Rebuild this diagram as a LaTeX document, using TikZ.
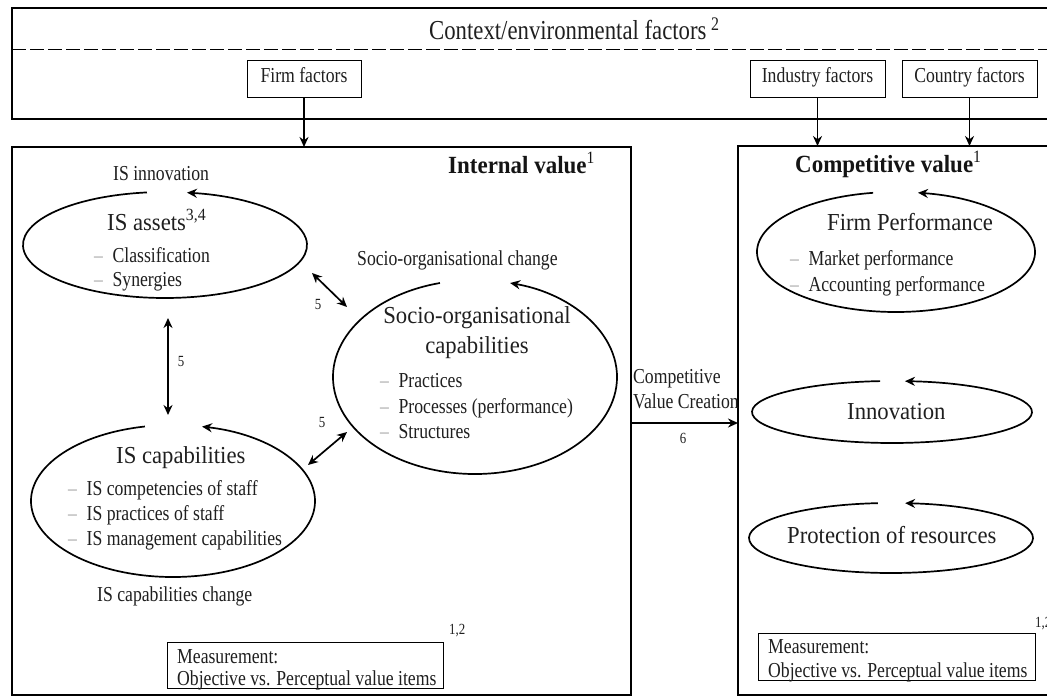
\documentclass[tikz,border=0pt]{standalone}
\usepackage{fontspec}
\setmainfont{Liberation Serif}[FakeStretch=0.9]
\newfontfamily\smf{Liberation Serif}[FakeStretch=0.83, Ligatures=TeX]
\newfontfamily\bgf{Liberation Serif}[FakeStretch=0.93, Ligatures=TeX]
\usetikzlibrary{arrows.meta,calc,shapes.geometric}
\newcommand{\dsh}{\textcolor{black!35}{\textendash}\hspace{0.45em}}
\tikzset{
  bigbox/.style={draw, line width=2.4pt, inner sep=0pt, outer sep=0pt, anchor=north west},
  fbox/.style={draw, line width=1pt, inner sep=0pt, outer sep=0pt, minimum height=37pt, text height=0.66em, text depth=0pt, font=\smf\fontsize{21.3}{24}\selectfont, text=black!88},
  mbox/.style={draw, line width=1pt, inner sep=0pt, outer sep=0pt, anchor=north west},
  ellnode/.style={ellipse, draw=none, inner sep=0pt, outer sep=0pt},
  ellarc/.style={line width=1.7pt, -{Stealth[length=10pt,width=9pt]}},
  arr/.style={line width=1.7pt, -{Stealth[length=10pt,width=9pt]}},
  darr/.style={line width=1.7pt, {Stealth[length=10pt,width=9pt]}-{Stealth[length=10pt,width=9pt]}},
  sm/.style={font=\smf\fontsize{21.3}{24}\selectfont, inner sep=0pt, anchor=base west, text=black!88},
  bg/.style={font=\bgf\fontsize{24.4}{28}\selectfont, inner sep=0pt, anchor=base west, text=black!88},
  bd/.style={font=\bgf\fontsize{24.7}{28}\selectfont\bfseries, inner sep=0pt, anchor=base west, text=black!92},
  num/.style={font=\smf\fontsize{15.5}{17}\selectfont, inner sep=0pt, anchor=base, text=black!88},
  dashline/.style={line width=0.9pt, dash pattern=on 14pt off 4pt},
}
\begin{document}
\begin{tikzpicture}[x=1pt,y=1pt]
\useasboundingbox (0,0) rectangle (1047,-698);
\clip (0,0) rectangle (1047,-698);
\fill[white] (0,0) rectangle (1047,-698);

% context box
\node[bigbox, minimum width=1060pt, minimum height=111pt] (context) at (12,-8) {};
\draw[dashline] (12,-49) -- (1060,-49);
\node[sm, font=\smf\fontsize{27.4}{30}\selectfont] (ctitle) at (429,-40) {Context/environmental factors\,\textsuperscript{2}};
\node[fbox, minimum width=114pt] (firm) at (304,-79.5) {Firm factors};
\node[fbox, minimum width=135pt] (industry) at (817.5,-79.5) {Industry factors};
\node[fbox, minimum width=135pt] (country) at (969.5,-79.5) {Country factors};

% main boxes
\node[bigbox, minimum width=619pt, minimum height=548pt] (internal) at (12,-147) {};
\node[bigbox, minimum width=322pt, minimum height=549pt] (comp) at (738,-146) {};

\draw[arr] (firm.south) -- (firm.south |- internal.north);
\draw[arr] (industry.south) -- (industry.south |- comp.north);
\draw[arr] (country.south) -- (country.south |- comp.north);

% IS assets
\node[ellnode, minimum width=284pt, minimum height=106pt] (assets) at (165,-245) {};
\draw[ellarc] ($(assets.center)+(97.3:142pt and 53pt)$) arc[start angle=97.3, end angle=441.1, x radius=142pt, y radius=53pt];
\node[sm] (isinno) at (113,-180) {IS innovation};
\node[bg] (assetsT) at (107,-230) {IS assets\textsuperscript{3,4}};
\node[sm] (assets1) at (94,-262) {\dsh Classification};
\node[sm] (assets2) at (94,-286) {\dsh Synergies};

% internal value title
\node[bd] (intT) at (448,-173) {Internal value\textsuperscript{\normalfont 1}};

% socio
\node[ellnode, minimum width=284pt, minimum height=194pt] (socio) at (475,-377) {};
\draw[ellarc] ($(socio.center)+(104.3:142pt and 97pt)$) arc[start angle=104.3, end angle=435.7, x radius=142pt, y radius=97pt];
\node[sm] (sociochg) at (357,-265) {Socio-organisational change};
\node[bg, anchor=base] (socioT1) at (477,-323) {Socio-organisational};
\node[bg, anchor=base] (socioT2) at (477,-353) {capabilities};
\node[sm] (socio1) at (380,-387) {\dsh Practices};
\node[sm] (socio2) at (380,-413) {\dsh Processes (performance)};
\node[sm] (socio3) at (380,-438) {\dsh Structures};

% IS capabilities
\node[ellnode, minimum width=284pt, minimum height=152pt] (caps) at (173,-501) {};
\draw[ellarc] ($(caps.center)+(101.4:142pt and 76pt)$) arc[start angle=101.4, end angle=438.2, x radius=142pt, y radius=76pt];
\node[bg] (capsT) at (116,-463) {IS capabilities};
\node[sm] (caps1) at (68,-495) {\dsh IS competencies of staff};
\node[sm] (caps2) at (68,-520) {\dsh IS practices of staff};
\node[sm] (caps3) at (68,-545) {\dsh IS management capabilities};
\node[sm] (capschg) at (97,-601) {IS capabilities change};

% double arrows
\coordinate (a1) at (312,-273);
\coordinate (a2) at (347,-307);
\draw[darr] (a1) -- (a2);
\node[num] (n5a) at (318,-309) {5};
\coordinate (v1) at (168,-318);
\coordinate (v2) at (168,-415);
\draw[darr] (v1) -- (v2);
\node[num] (n5b) at (181,-366) {5};
\coordinate (b1) at (308,-465);
\coordinate (b2) at (347,-432);
\draw[darr] (b1) -- (b2);
\node[num] (n5c) at (322,-427) {5};

% measurement left
\node[mbox, minimum width=276pt, minimum height=46pt] (measL) at (167,-642) {};
\node[sm] (measL1) at (177,-663) {Measurement:};
\node[sm] (measL2) at (177,-685) {Objective vs. Perceptual value items};
\node[num, anchor=base west] (supL) at (449,-634) {1,2};

% competitive value creation
\node[sm] (cvc1) at (633,-383) {Competitive};
\node[sm] (cvc2) at (633,-408) {Value Creation};
\coordinate (c6) at (631,-423);
\draw[arr] (c6) -- (c6 -| comp.west);
\node[num] (n6) at (683,-443) {6};

% competitive value
\node[bd] (compT) at (795,-172) {Competitive value\textsuperscript{\normalfont 1}};

\node[ellnode, minimum width=278pt, minimum height=120pt] (perf) at (896,-252) {};
\draw[ellarc] ($(perf.center)+(99.5:139pt and 60pt)$) arc[start angle=99.5, end angle=440.9, x radius=139pt, y radius=60pt];
\node[bg] (perfT) at (827,-230) {Firm Performance};
\node[sm] (perf1) at (790,-265) {\dsh Market performance};
\node[sm] (perf2) at (790,-291) {\dsh Accounting performance};

\node[ellnode, minimum width=280pt, minimum height=62pt] (inno) at (892,-412) {};
\draw[ellarc] ($(inno.center)+(94.9:140pt and 31pt)$) arc[start angle=94.9, end angle=444.7, x radius=140pt, y radius=31pt];
\node[bg] (innoT) at (847,-419) {Innovation};

\node[ellnode, minimum width=284pt, minimum height=70pt] (prot) at (891,-538) {};
\draw[ellarc] ($(prot.center)+(95.3:142pt and 35pt)$) arc[start angle=95.3, end angle=444.3, x radius=142pt, y radius=35pt];
\node[bg] (protT) at (787,-543) {Protection of resources};

\node[mbox, minimum width=277pt, minimum height=47pt] (measR) at (758,-633) {};
\node[sm] (measR1) at (768,-653) {Measurement:};
\node[sm] (measR2) at (768,-677) {Objective vs. Perceptual value items};
\node[num, anchor=base west] (supR) at (1035,-627) {1,2};
\end{tikzpicture}
\end{document}
